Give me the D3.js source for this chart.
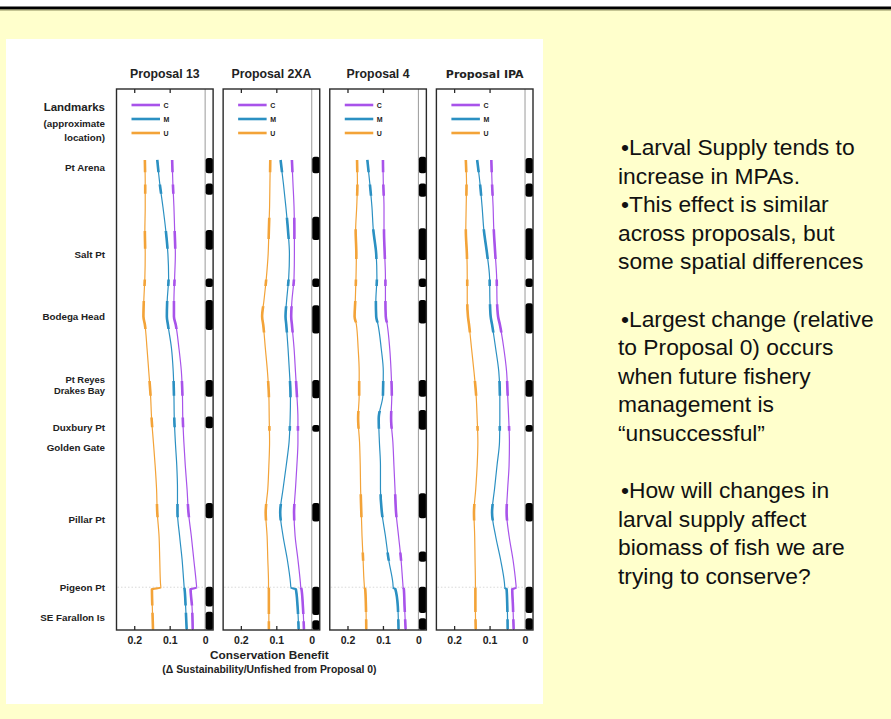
<!DOCTYPE html>
<html>
<head>
<meta charset="utf-8">
<script src="https://cdn.jsdelivr.net/npm/d3@7/dist/d3.min.js"></script>
<style>
  body { margin: 0; background: #fff; }
  svg { display: block; }
  text { font-family: "Liberation Sans", Arial, sans-serif; }
</style>
</head>
<body>
<svg id="chart" width="891" height="719"></svg>
<script>
// alongshore position, 0 = north end of the curves, 100 = south end
var positions = [0,5,10,15,20,25,30,33.3,35,40,45,50,55,60,65,70,75,80,85,90,90.9,91.3,95,100];

var proposals = ["Proposal 13", "Proposal 2XA", "Proposal 4", "Proposal IPA"];
var scenarios = ["C", "M", "U"];

// conservation benefit (delta sustainability/unfished from proposal 0)
var p13C  = [0.093,0.091,0.088,0.086,0.084,0.086,0.088,0.088,0.083,0.074,0.067,0.064,0.063,0.060,0.056,0.051,0.047,0.039,0.032,0.025,0.024,0.041,0.037,0.035];
var p13M  = [0.135,0.128,0.119,0.111,0.105,0.103,0.107,0.108,0.105,0.095,0.090,0.088,0.087,0.084,0.080,0.078,0.078,0.072,0.065,0.060,0.059,0.058,0.055,0.052];
var p13U  = [0.170,0.169,0.169,0.170,0.169,0.170,0.173,0.174,0.170,0.164,0.159,0.154,0.151,0.146,0.141,0.137,0.135,0.130,0.128,0.126,0.125,0.150,0.149,0.147];

var p2xaC = [0.056,0.053,0.050,0.049,0.049,0.050,0.056,0.058,0.056,0.050,0.046,0.042,0.039,0.039,0.042,0.046,0.050,0.047,0.039,0.032,0.031,0.029,0.025,0.022];
var p2xaM = [0.088,0.080,0.073,0.067,0.063,0.065,0.071,0.074,0.072,0.067,0.063,0.060,0.061,0.064,0.072,0.081,0.089,0.081,0.069,0.060,0.059,0.045,0.040,0.037];
var p2xaU = [0.117,0.118,0.119,0.121,0.123,0.128,0.135,0.140,0.137,0.131,0.125,0.121,0.120,0.119,0.121,0.124,0.130,0.126,0.124,0.122,0.122,0.121,0.121,0.121];

var p4C   = [0.100,0.099,0.097,0.097,0.095,0.093,0.093,0.092,0.088,0.081,0.077,0.075,0.077,0.072,0.069,0.066,0.063,0.056,0.049,0.044,0.043,0.041,0.039,0.036];
var p4M   = [0.144,0.137,0.131,0.127,0.119,0.117,0.120,0.119,0.114,0.105,0.099,0.100,0.112,0.110,0.107,0.107,0.103,0.093,0.084,0.072,0.071,0.065,0.058,0.056];
var p4U   = [0.173,0.172,0.174,0.177,0.175,0.176,0.178,0.180,0.175,0.170,0.167,0.167,0.170,0.166,0.164,0.163,0.161,0.159,0.156,0.153,0.152,0.150,0.148,0.147];

var ipaC  = [0.095,0.093,0.090,0.088,0.084,0.080,0.079,0.076,0.071,0.060,0.052,0.049,0.046,0.044,0.045,0.049,0.052,0.045,0.034,0.026,0.025,0.036,0.034,0.032];
var ipaM  = [0.135,0.127,0.121,0.116,0.107,0.100,0.099,0.097,0.093,0.083,0.074,0.071,0.071,0.072,0.079,0.086,0.093,0.083,0.069,0.058,0.057,0.052,0.050,0.049];
var ipaU  = [0.167,0.165,0.166,0.167,0.164,0.163,0.163,0.161,0.158,0.151,0.144,0.138,0.135,0.133,0.135,0.139,0.144,0.142,0.141,0.140,0.140,0.140,0.140,0.139];

// MPA extents along the coast (same position units)
var mpa13  = [[-0.4,2.8],[5,7.4],[14.9,19.1],[25.2,27],[29.8,36.2],[46.8,50.4],[54.6,57.1],[73,76.2],[90.8,95],[96.1,100]];
var mpa2xa = [[-0.7,2.8],[12.1,17],[25.2,27],[30.9,36.9],[46.8,50.7],[56.4,57.8],[73,76.9],[90.8,96.8],[97.9,100]];
var mpa4   = [[-0.7,2.8],[5,7.8],[14.5,21.3],[25.2,27],[29.8,34.8],[46.8,50.4],[53.2,57.4],[70.9,76.2],[83.3,85.5],[90.8,96.4],[97.5,100]];
var mpaIpa = [[-0.4,2.8],[5,7.8],[14.5,21.3],[25.2,27],[30.5,36.9],[46.8,50.4],[56.4,57.8],[73,76.9],[90.8,96.4],[97.5,100]];

var landmarks = ["Pt Arena","Salt Pt","Bodega Head","Pt Reyes","Drakes Bay","Duxbury Pt","Golden Gate","Pillar Pt","Pigeon Pt","SE Farallon Is"];
var landmarkPos = [1.7, 20.2, 33.2, 46.6, 49.0, 56.9, 61.2, 76.4, 91, 97.3];

var tickValues = [0.2, 0.1, 0];

var bullets = [
  ["\u2022Larval Supply tends to", "increase in MPAs."],
  ["\u2022This effect is similar", "across proposals, but", "some spatial differences"],
  null,
  ["\u2022Largest change (relative", "to Proposal 0) occurs", "when future fishery", "management is", "\u201Cunsuccessful\u201D"],
  null,
  ["\u2022How will changes in", "larval supply affect", "biomass of fish we are", "trying to conserve?"]
];

var colors = { C: "#a853ea", M: "#2b90c2", U: "#f3a338" };

var seriesTable = [
  { C: p13C,  M: p13M,  U: p13U,  mpa: mpa13 },
  { C: p2xaC, M: p2xaM, U: p2xaU, mpa: mpa2xa },
  { C: p4C,   M: p4M,   U: p4U,   mpa: mpa4 },
  { C: ipaC,  M: ipaM,  U: ipaU,  mpa: mpaIpa }
];

var svg = d3.select("#chart");

//slide background
svg.append("rect").attr("x", 0).attr("y", 0).attr("width", 891).attr("height", 719).attr("fill", "#fff");
svg.append("rect").attr("x", 0).attr("y", 9.5).attr("width", 891).attr("height", 710).attr("fill", "#ffffcc");
svg.append("rect").attr("x", 0).attr("y", 6.5).attr("width", 891).attr("height", 3).attr("fill", "#000");
svg.append("rect").attr("x", 0).attr("y", 9.5).attr("width", 891).attr("height", 1).attr("fill", "#8c8c5a");
svg.append("rect").attr("x", 6).attr("y", 39).attr("width", 537).attr("height", 665).attr("fill", "#fff");

//scales
var frameTop = 89, frameBottom = 630;
var y = d3.scaleLinear().domain([-15.1, 100]).range([frameTop, frameBottom]);

var panelX = d3.scaleBand()
    .domain(proposals)
    .range([116.5, 533])
    .paddingInner(0.094);
var bw = panelX.bandwidth();

var x = d3.scaleLinear().domain([0.25, -0.0225]).range([0, bw]);

var line = d3.line()
    .x(function (d) { return x(d.v); })
    .y(function (d) { return y(d.p); })
    .curve(d3.curveMonotoneY);

var defs = svg.append("defs");

proposals.forEach(function (name, i) {
  var row = seriesTable[i];
  var g = svg.append("g").attr("transform", "translate(" + panelX(name) + ",0)");

  //clip for thick MPA segments
  var clip = defs.append("clipPath").attr("id", "mpa" + i);
  clip.selectAll("rect")
      .data(row.mpa)
      .enter().append("rect")
      .attr("x", -5)
      .attr("width", bw + 10)
      .attr("y", function (d) { return y(d[0]) + 1; })
      .attr("height", function (d) { return Math.max(0, y(d[1]) - y(d[0]) - 2); });

  //title
  g.append("text")
      .attr("x", bw / 2)
      .attr("y", 78)
      .attr("text-anchor", "middle")
      .style("font-weight", "bold")
      .style("font-size", i === 3 ? "11px" : "12.3px")
      .style("font-family", i === 3 ? "'DejaVu Sans', sans-serif" : null)
      .attr("fill", "#222")
      .text(name);

  //dotted line at the Pigeon Pt break
  g.append("line")
      .attr("x1", 1).attr("x2", x(0))
      .attr("y1", y(90.9)).attr("y2", y(90.9))
      .attr("stroke", "#d8d8d8")
      .attr("stroke-width", 1)
      .attr("stroke-dasharray", "1.5,2");

  //MPA strip
  g.append("line")
      .attr("x1", x(0)).attr("x2", x(0))
      .attr("y1", frameTop).attr("y2", frameBottom)
      .attr("stroke", "#9a9a9a")
      .attr("stroke-width", 1);

  g.selectAll(".mpa")
      .data(row.mpa)
      .enter().append("rect")
      .attr("class", "mpa")
      .attr("x", x(0) + 0.5)
      .attr("width", bw - x(0) - 0.5)
      .attr("y", function (d) { return y(Math.max(d[0], -15)); })
      .attr("height", function (d) { return y(Math.min(d[1], 100)) - y(Math.max(d[0], -15)); })
      .attr("rx", 2.5)
      .attr("fill", "#000");

  //curves
  scenarios.forEach(function (s) {
    var pts = positions.map(function (p, k) { return { p: p, v: row[s][k] }; });
    g.append("path")
        .attr("d", line(pts))
        .attr("fill", "none")
        .attr("stroke", colors[s])
        .attr("stroke-width", 1.2);
    g.append("path")
        .attr("d", line(pts))
        .attr("fill", "none")
        .attr("stroke", colors[s])
        .attr("stroke-width", 2.6)
        .attr("clip-path", "url(#mpa" + i + ")");
  });

  //legend
  scenarios.forEach(function (s, k) {
    var ly = 105 + k * 14;
    g.append("line")
        .attr("x1", 15).attr("x2", 43.5)
        .attr("y1", ly).attr("y2", ly)
        .attr("stroke", colors[s])
        .attr("stroke-width", 2.6);
    g.append("text")
        .attr("x", 47)
        .attr("y", ly + 2.5)
        .style("font-size", "7px")
        .style("font-weight", "bold")
        .attr("fill", "#222")
        .text(s);
  });

  //frame
  g.append("rect")
      .attr("x", 0).attr("y", frameTop)
      .attr("width", bw).attr("height", frameBottom - frameTop)
      .attr("fill", "none")
      .attr("stroke", "#2a2a2a")
      .attr("stroke-width", 1.4);

  //axes
  var top = g.append("g")
      .attr("transform", "translate(0," + frameTop + ")")
      .call(d3.axisTop(x).tickValues([0.2, 0.1]).tickSize(-4).tickFormat(""));
  top.select(".domain").remove();
  top.selectAll("line").attr("stroke", "#2a2a2a").attr("stroke-width", 1.3);

  var bottom = g.append("g")
      .attr("transform", "translate(0," + frameBottom + ")")
      .call(d3.axisBottom(x).tickValues(tickValues).tickSize(-4).tickPadding(7).tickFormat(d3.format("~g")));
  bottom.select(".domain").remove();
  bottom.selectAll("line").attr("stroke", "#2a2a2a").attr("stroke-width", 1.3);
  bottom.selectAll(".tick").filter(function (d) { return d === 0; }).select("line").remove();
  bottom.selectAll("text")
      .style("font-family", "'Liberation Sans', Arial, sans-serif")
      .style("font-size", "10.5px")
      .style("font-weight", "bold")
      .attr("fill", "#222");
});

//landmark labels
var lab = svg.append("g").attr("class", "landmarks");
lab.append("text").attr("x", 105).attr("y", 111)
    .attr("text-anchor", "end").style("font-size", "11.5px").style("font-weight", "bold")
    .attr("fill", "#222").text("Landmarks");
lab.append("text").attr("x", 105).attr("y", 127)
    .attr("text-anchor", "end").style("font-size", "9.8px").style("font-weight", "bold")
    .attr("fill", "#222").text("(approximate");
lab.append("text").attr("x", 105).attr("y", 141)
    .attr("text-anchor", "end").style("font-size", "9.8px").style("font-weight", "bold")
    .attr("fill", "#222").text("location)");

lab.selectAll(".lm")
    .data(landmarks)
    .enter().append("text")
    .attr("class", "lm")
    .attr("x", 105)
    .attr("y", function (d, i) { return y(landmarkPos[i]) + 3.5; })
    .attr("text-anchor", "end")
    .style("font-size", function (d) { return (d === "Pt Reyes" || d === "Drakes Bay") ? "9.4px" : "9.8px"; })
    .style("font-weight", "bold")
    .attr("fill", "#222")
    .text(function (d) { return d; });

//axis title, centred under the second panel
var midX = panelX(proposals[1]) + bw / 2 - 2;
svg.append("text").attr("x", midX).attr("y", 659)
    .attr("text-anchor", "middle").style("font-size", "11.8px").style("font-weight", "bold")
    .attr("fill", "#222").text("Conservation Benefit");
svg.append("text").attr("x", midX).attr("y", 673)
    .attr("text-anchor", "middle").style("font-size", "10.4px").style("font-weight", "bold")
    .attr("fill", "#222").text("(\u0394 Sustainability/Unfished from Proposal 0)");

//bullet text on the right
var txt = svg.append("text")
    .attr("x", 618)
    .attr("y", 155)
    .style("font-size", "22.8px")
    .attr("fill", "#111");
var lineH = 28.6, rowN = 0;
bullets.forEach(function (block) {
  if (!block) { rowN++; return; }
  block.forEach(function (s) {
    txt.append("tspan")
        .attr("x", s.charAt(0) === "\u2022" ? 621 : 618)
        .attr("y", 155 + rowN * lineH)
        .text(s);
    rowN++;
  });
});
</script>
</body>
</html>
